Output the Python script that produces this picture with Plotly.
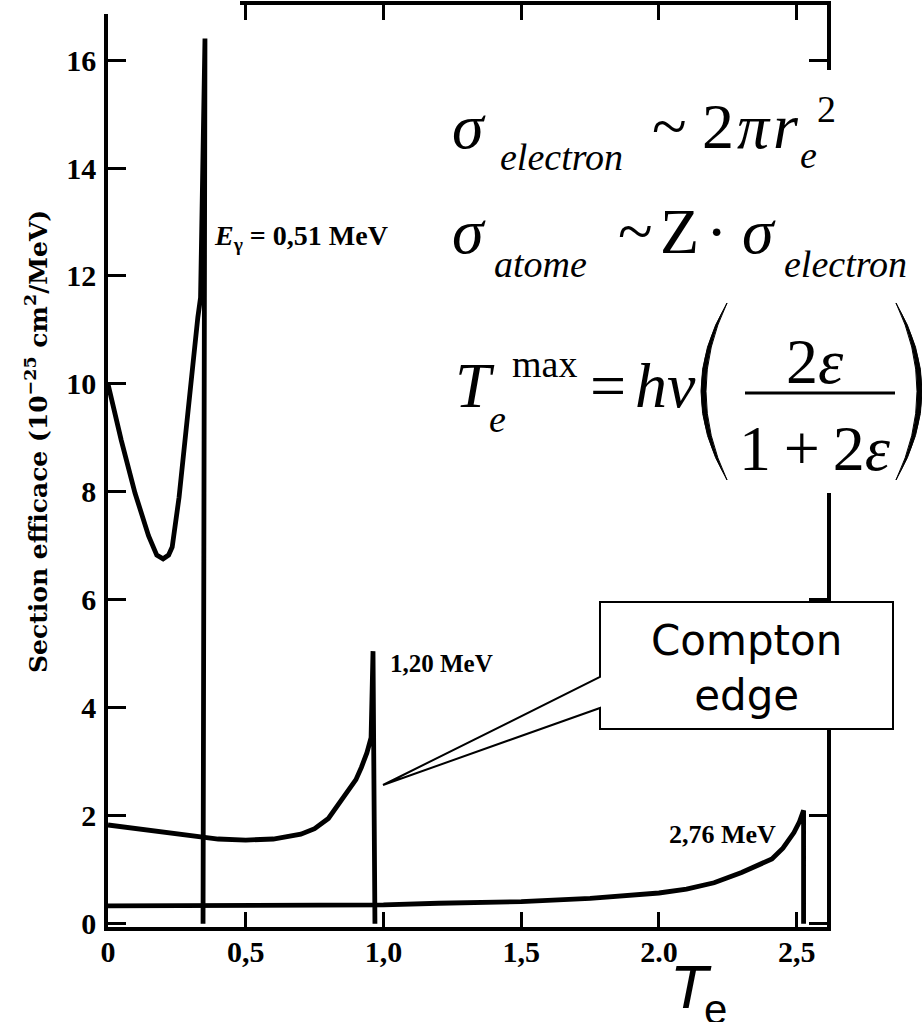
import plotly.graph_objects as go

# ---------------- data ----------------
# Compton electron spectra, incident photon energy 0.51 MeV
e051_x = [0.0, 0.048, 0.098, 0.147, 0.177, 0.20, 0.22, 0.233, 0.258, 0.283, 0.307, 0.326, 0.336, 0.352, 0.345]
e051_y = [10.0, 8.96, 7.98, 7.19, 6.83, 6.76, 6.83, 6.98, 7.9, 9.17, 10.38, 11.23, 11.6, 16.4, 0.0]

# incident photon energy 1.20 MeV
e120_x = [0.0, 0.1, 0.2, 0.3, 0.4, 0.5, 0.6, 0.7, 0.75, 0.8, 0.84, 0.88, 0.90, 0.92, 0.94, 0.955, 0.962, 0.969]
e120_y = [1.83, 1.76, 1.69, 1.62, 1.57, 1.55, 1.57, 1.66, 1.76, 1.95, 2.24, 2.5, 2.67, 2.9, 3.17, 3.45, 5.05, 0.0]

# incident photon energy 2.76 MeV
e276_x = [0.0, 0.5, 1.0, 1.2, 1.5, 1.75, 2.0, 2.1, 2.2, 2.3, 2.35, 2.41, 2.45, 2.49, 2.51, 2.525, 2.525]
e276_y = [0.33, 0.33, 0.35, 0.38, 0.41, 0.47, 0.57, 0.64, 0.76, 0.95, 1.06, 1.2, 1.4, 1.69, 1.89, 2.1, 0.0]

x_tickvals = [0, 0.5, 1.0, 1.5, 2.0, 2.5]
x_ticktext = ["0", "0,5", "1,0", "1,5", "2.0", "2,5"]
y_tickvals = [0, 2, 4, 6, 8, 10, 12, 14, 16]
y_ticktext = ["0", "2", "4", "6", "8", "10", "12", "14", "16"]

curve_labels = ["<b><i>E</i><sub>γ</sub> = 0,51 MeV</b>", "<b>1,20 MeV</b>", "<b>2,76 MeV</b>"]

# ---------------- layout helpers (pixel -> paper) ----------------
W, H = 922, 1022
L, R, T, B = 108, 827, 5, 927


def px(x):
    return (x - L) / (R - L)


def py(y):
    return (B - y) / (B - T)


ann = []


def A(text, x, yc, size, family="Liberation Serif", xanchor="left", weight="normal", angle=0, align="left"):
    ann.append(dict(text=text, x=px(x), y=py(yc), xref="paper", yref="paper", showarrow=False,
                    xanchor=xanchor, yanchor="middle", textangle=angle, align=align,
                    font=dict(family=family, size=size, color="black", weight=weight)))


def AB(text, x, base, size, k=0.3375, **kw):
    # place by baseline
    A(text, x, base - k * size, size, **kw)


fig = go.Figure()
for xs, ys in [(e051_x, e051_y), (e120_x, e120_y), (e276_x, e276_y)]:
    fig.add_trace(go.Scatter(x=xs, y=ys, mode="lines", line=dict(color="black", width=4.8),
                             showlegend=False, hoverinfo="skip"))

shapes = []


def P(x, y):
    return f"{px(x):.5f},{py(y):.5f}"


# white background behind the formulas (covers the right axis there)
shapes.append(dict(type="rect", xref="paper", yref="paper", x0=px(440), x1=px(925), y0=py(493), y1=py(70),
                   fillcolor="white", line=dict(width=0), layer="above"))
# top-left part of the frame is missing in the scan
shapes.append(dict(type="rect", xref="paper", yref="paper", x0=px(95), x1=px(240), y0=py(14), y1=py(-5),
                   fillcolor="white", line=dict(width=0), layer="above"))
# callout box with wedge
callout = ("M " + P(600, 602) + " L " + P(893, 602) + " L " + P(893, 729) + " L " + P(600, 729) +
           " L " + P(600, 708) + " L " + P(383, 785) + " L " + P(600, 677) + " Z")
shapes.append(dict(type="path", xref="paper", yref="paper", path=callout, fillcolor="white",
                   line=dict(color="black", width=2), layer="above"))
# big parentheses
lp = "M " + P(727, 303) + " Q " + P(675, 391) + " " + P(727, 480) + " Q " + P(685, 391) + " " + P(727, 303) + " Z"
rp = "M " + P(896, 303) + " Q " + P(948, 391) + " " + P(896, 480) + " Q " + P(938, 391) + " " + P(896, 303) + " Z"
for p in (lp, rp):
    shapes.append(dict(type="path", xref="paper", yref="paper", path=p, fillcolor="black",
                       line=dict(color="black", width=1), layer="above"))
# fraction bar
shapes.append(dict(type="line", xref="paper", yref="paper", x0=px(745), x1=px(895), y0=py(393), y1=py(393),
                   line=dict(color="black", width=3), layer="above"))

# ---------------- formulas ----------------
M, S = 64, 38
# line 1
AB("<i>σ</i>", 450, 148, M)
AB("<i>electron</i>", 498, 170, S)
AB("~", 650, 148, M)
AB("2", 700, 148, M)
AB("<i>π</i>", 735, 148, M)
AB("<i>r</i>", 771, 148, M)
AB("<i>e</i>", 798, 168, S)
AB("2", 815, 122, S)
# line 2
AB("<i>σ</i>", 450, 253, M)
AB("<i>atome</i>", 492, 277, S)
AB("~", 616, 253, M)
AB("Z", 658, 253, M)
AB("·", 704, 253, M)
AB("<i>σ</i>", 740, 253, M)
AB("<i>electron</i>", 782, 277, S)
# line 3
AB("<i>T</i>", 453, 407, M)
AB("max", 510, 377, S)
AB("<i>e</i>", 487, 432, S)
AB("=", 588, 407, M)
AB("<i>hν</i>", 633, 407, M)
AB("2<i>ε</i>", 815, 383, M, xanchor="center")
AB("1\u2009+\u20092<i>ε</i>", 815, 470, M, xanchor="center")

# ---------------- curve labels ----------------
A(curve_labels[0], 212, 238, 28)
A(curve_labels[1], 388, 663, 25)
A(curve_labels[2], 667, 834, 26)

# callout text
A("Compton<br>edge", 746, 668, 42, family="DejaVu Sans", xanchor="center", align="center")

# axis titles
A("Section efficace (10<sup>−25</sup> cm<sup>2</sup>/MeV)", 36, 442, 25, family="DejaVu Serif",
  xanchor="center", weight="bold", angle=-90)
AB("<i>T</i>", 668, 1008, 62, k=0.3465, family="Liberation Sans")
AB("e", 702, 1024, 42, k=0.3465, family="Liberation Sans")

tickfont = dict(family="Liberation Serif", size=30, color="black", weight="bold")
fig.update_layout(
    width=W, height=H,
    margin=dict(l=L, r=W - R, t=T, b=H - B, autoexpand=False),
    paper_bgcolor="white", plot_bgcolor="white",
    shapes=shapes, annotations=ann, showlegend=False,
    xaxis=dict(range=[0, 2.61], tickvals=x_tickvals, ticktext=x_ticktext, ticks="inside", ticklen=15,
               tickwidth=3, tickcolor="black", showline=True, linewidth=3.5, linecolor="black",
               mirror="ticks", showgrid=False, zeroline=False, tickfont=tickfont, ticklabelstandoff=-5,
               automargin=False),
    yaxis=dict(range=[-0.06, 17.02], tickvals=y_tickvals, ticktext=y_ticktext, ticks="inside", ticklen=18,
               tickwidth=3, tickcolor="black", showline=True, linewidth=3.5, linecolor="black",
               mirror="ticks", showgrid=False, zeroline=False, tickfont=tickfont, ticklabelstandoff=2,
               automargin=False),
)

fig.write_html("out.html")
